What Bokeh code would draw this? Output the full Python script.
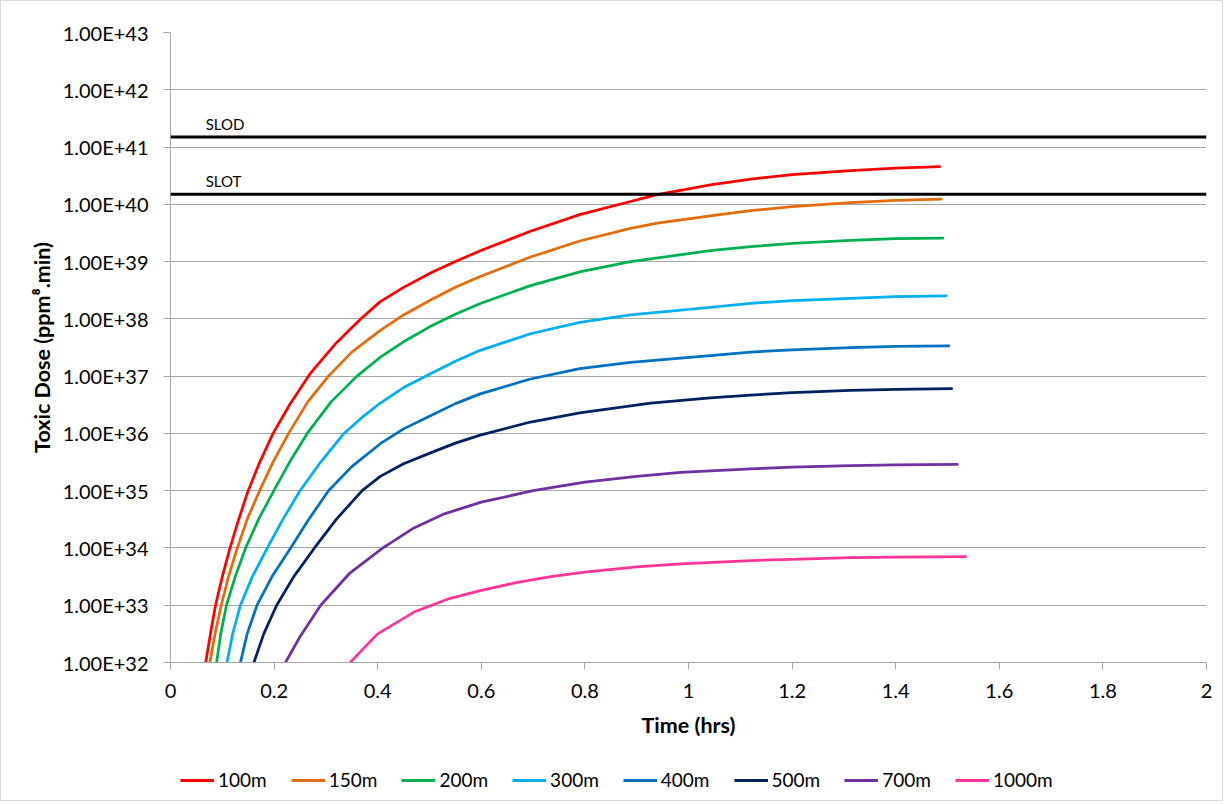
from bokeh.plotting import figure
from bokeh.models import FixedTicker, Legend, LegendItem, Span, Range1d
from bokeh.layouts import column
from bokeh.embed import file_html
from bokeh.resources import INLINE
from bokeh.core.properties import value

# ---------------- data ----------------
series_names = ["100m", "150m", "200m", "300m", "400m", "500m", "700m", "1000m"]
series_colors = ["#FF0000", "#E46C0A", "#00B050", "#00B0F0", "#0070C0", "#002060", "#7030A0", "#FF3399"]

t_100 = [0.068, 0.078, 0.087, 0.1, 0.115, 0.13, 0.148, 0.17, 0.198, 0.23, 0.27, 0.32, 0.365, 0.405, 0.45,
         0.502, 0.55, 0.598, 0.695, 0.79, 0.888, 0.94, 1.042, 1.12, 1.2, 1.313, 1.4, 1.485]
d_100 = [1e32, 3.55e32, 1e33, 3.16e33, 1e34, 2.82e34, 8.91e34, 2.82e35, 1e36, 3.16e36, 1.12e37, 3.80e37, 9.55e37,
         2.0e38, 3.55e38, 6.31e38, 1e39, 1.55e39, 3.39e39, 6.61e39, 1.12e40, 1.48e40, 2.19e40, 2.75e40, 3.31e40,
         3.89e40, 4.27e40, 4.57e40]

t_150 = [0.076, 0.086, 0.098, 0.112, 0.129, 0.148, 0.172, 0.198, 0.228, 0.265, 0.305, 0.35, 0.405, 0.45, 0.502,
         0.55, 0.598, 0.695, 0.79, 0.888, 0.94, 1.042, 1.12, 1.2, 1.313, 1.4, 1.488]
d_150 = [1e32, 3.16e32, 1e33, 3.16e33, 1e34, 3.16e34, 1e35, 3.16e35, 1e36, 3.55e36, 1e37, 2.63e37, 6.31e37,
         1.17e38, 2.14e38, 3.55e38, 5.50e38, 1.20e39, 2.29e39, 3.80e39, 4.68e39, 6.31e39, 7.76e39, 9.12e39,
         1.07e40, 1.17e40, 1.23e40]

t_200 = [0.089, 0.097, 0.108, 0.125, 0.145, 0.17, 0.1995, 0.23, 0.264, 0.31, 0.36, 0.405, 0.45, 0.502, 0.55,
         0.598, 0.695, 0.79, 0.888, 1.042, 1.12, 1.2, 1.313, 1.4, 1.491]
d_200 = [1e32, 3.16e32, 1e33, 3.16e33, 1e34, 3.16e34, 1e35, 3.16e35, 1e36, 3.55e36, 1e37, 2.14e37, 3.98e37,
         7.41e37, 1.20e38, 1.86e38, 3.80e38, 6.61e38, 1e39, 1.55e39, 1.82e39, 2.09e39, 2.34e39, 2.51e39, 2.57e39]

t_300 = [0.109, 0.12, 0.135, 0.158, 0.187, 0.217, 0.25, 0.29, 0.335, 0.37, 0.405, 0.45, 0.502, 0.55, 0.598,
         0.695, 0.79, 0.888, 1.042, 1.12, 1.2, 1.313, 1.4, 1.4975]
d_300 = [1e32, 3.16e32, 1e33, 3.16e33, 1e34, 3.16e34, 1e35, 3.16e35, 1e36, 1.91e36, 3.39e36, 6.31e36, 1.10e37,
         1.82e37, 2.82e37, 5.50e37, 8.71e37, 1.17e38, 1.58e38, 1.86e38, 2.09e38, 2.29e38, 2.45e38, 2.51e38]

t_400 = [0.135, 0.148, 0.167, 0.196, 0.232, 0.267, 0.305, 0.35, 0.405, 0.45, 0.502, 0.55, 0.598, 0.695, 0.79,
         0.888, 1.042, 1.12, 1.2, 1.313, 1.4, 1.5025]
d_400 = [1e32, 3.16e32, 1e33, 3.16e33, 1e34, 3.16e34, 1e35, 2.63e35, 6.61e35, 1.20e36, 2.04e36, 3.31e36,
         4.90e36, 8.91e36, 1.35e37, 1.74e37, 2.29e37, 2.63e37, 2.88e37, 3.16e37, 3.31e37, 3.39e37]

t_500 = [0.161, 0.18, 0.205, 0.238, 0.278, 0.32, 0.37, 0.405, 0.45, 0.502, 0.55, 0.598, 0.695, 0.79, 0.927,
         1.042, 1.12, 1.2, 1.313, 1.4, 1.508]
d_500 = [1e32, 3.16e32, 1e33, 3.16e33, 1e34, 3.16e34, 1e35, 1.78e35, 2.95e35, 4.57e35, 6.76e35, 9.33e35,
         1.58e36, 2.29e36, 3.39e36, 4.17e36, 4.68e36, 5.13e36, 5.62e36, 5.89e36, 6.03e36]

t_700 = [0.222, 0.25, 0.29, 0.345, 0.41, 0.47, 0.53, 0.6, 0.7, 0.8, 0.9, 0.985, 1.12, 1.2, 1.313, 1.4, 1.519]
d_700 = [1e32, 2.82e32, 1e33, 3.55e33, 1e34, 2.24e34, 3.98e34, 6.31e34, 1e35, 1.41e35, 1.78e35, 2.09e35,
         2.40e35, 2.57e35, 2.75e35, 2.82e35, 2.88e35]

t_1000 = [0.347, 0.37, 0.4, 0.47, 0.54, 0.6, 0.67, 0.734, 0.8, 0.9, 0.985, 1.12, 1.2, 1.313, 1.4, 1.535]
d_1000 = [1e32, 1.66e32, 3.16e32, 7.59e32, 1.32e33, 1.82e33, 2.51e33, 3.16e33, 3.80e33, 4.68e33, 5.25e33,
          6.03e33, 6.31e33, 6.76e33, 6.92e33, 7.08e33]

series_t = [t_100, t_150, t_200, t_300, t_400, t_500, t_700, t_1000]
series_d = [d_100, d_150, d_200, d_300, d_400, d_500, d_700, d_1000]

threshold_names = ["SLOD", "SLOT"]
threshold_values = [1.5e41, 1.5e40]

x_ticks = [0, 0.2, 0.4, 0.6, 0.8, 1, 1.2, 1.4, 1.6, 1.8, 2]
x_tick_labels = ["0", "0.2", "0.4", "0.6", "0.8", "1", "1.2", "1.4", "1.6", "1.8", "2"]
y_ticks = [1e32, 1e33, 1e34, 1e35, 1e36, 1e37, 1e38, 1e39, 1e40, 1e41, 1e42, 1e43]
y_tick_labels = ["1.00E+32", "1.00E+33", "1.00E+34", "1.00E+35", "1.00E+36", "1.00E+37",
                 "1.00E+38", "1.00E+39", "1.00E+40", "1.00E+41", "1.00E+42", "1.00E+43"]

x_title = "Time (hrs)"
y_title = "Toxic Dose (ppm\u2078.min)"

# ---------------- main figure ----------------
FONT = "Lato"
GRID = "#a6a6a6"
TOTAL_W = 1221

p = figure(frame_width=1036, frame_height=630, x_range=(0, 2), y_range=(1e32, 1e43),
           y_axis_type="log", output_backend="svg", toolbar_location=None,
           min_border_left=169, min_border_right=16, min_border_top=31,
           min_border_bottom=80)
p.outline_line_color = None
p.background_fill_color = "white"
p.border_fill_color = "white"

p.xaxis.ticker = FixedTicker(ticks=x_ticks)
p.xaxis.major_label_overrides = dict(zip(x_ticks, x_tick_labels))
p.yaxis.ticker = FixedTicker(ticks=y_ticks)
p.yaxis.major_label_overrides = dict(zip(y_ticks, y_tick_labels))

for ax in (p.xaxis, p.yaxis):
    ax.axis_line_color = GRID
    ax.major_tick_line_color = GRID
    ax.major_tick_out = 7
    ax.major_tick_in = 0
    ax.minor_tick_line_color = None
    ax.major_label_text_font = FONT
    ax.major_label_text_font_size = "20px"
    ax.major_label_text_color = "black"
    ax.axis_label_text_font = FONT
    ax.axis_label_text_font_size = "21.5px"
    ax.axis_label_text_font_style = "bold"
    ax.axis_label_text_color = "black"

p.xaxis.axis_label = x_title
p.yaxis.axis_label = y_title
p.xaxis.major_label_standoff = 14
p.xaxis.axis_label_standoff = 11
p.yaxis.major_label_standoff = 15
p.yaxis.axis_label_standoff = 5

p.xgrid.grid_line_color = None
p.ygrid.grid_line_color = GRID
p.ygrid.grid_line_width = 1
p.ygrid.minor_grid_line_color = None

for name, val in zip(threshold_names, threshold_values):
    p.add_layout(Span(location=val, dimension="width", line_color="black", line_width=3))
    p.text(x=[0.068], y=[val], text=[name], text_font=value(FONT), text_font_size="15px",
           text_baseline="bottom", text_align="left", y_offset=-4, text_color="black")

for name, col, t, d in zip(series_names, series_colors, series_t, series_d):
    p.line(t, d, line_color=col, line_width=2.75, line_join="round", line_cap="round")

# ---------------- legend strip ----------------
# The series are re-plotted here far outside this strip's tiny range (so nothing shows
# inside it); they only provide the legend swatches.
lg = figure(frame_width=TOTAL_W, frame_height=58, x_range=Range1d(0, 1), y_range=Range1d(0, 1),
            output_backend="svg", toolbar_location=None,
            min_border_left=0, min_border_right=0, min_border_top=0, min_border_bottom=0)
lg.axis.visible = False
lg.grid.visible = False
lg.outline_line_color = None
lg.background_fill_color = "white"
lg.border_fill_color = "white"

items = []
for name, col, t, d in zip(series_names, series_colors, series_t, series_d):
    r = lg.line(t, d, line_color=col, line_width=3)
    items.append(LegendItem(label=name, renderers=[r]))

legend = Legend(items=items, orientation="horizontal", location=(179, 9))
legend.label_text_font = FONT
legend.label_text_font_size = "19px"
legend.label_text_color = "black"
legend.glyph_width = 34
legend.glyph_height = 20
legend.label_standoff = 4
legend.spacing = 24
legend.padding = 0
legend.margin = 0
legend.border_line_color = None
legend.background_fill_alpha = 0
lg.add_layout(legend, "center")

layout = column(p, lg, spacing=0)
layout.styles = {"border": "1px solid #d9d9d9"}

open("out.html", "w").write(file_html(layout, INLINE))
